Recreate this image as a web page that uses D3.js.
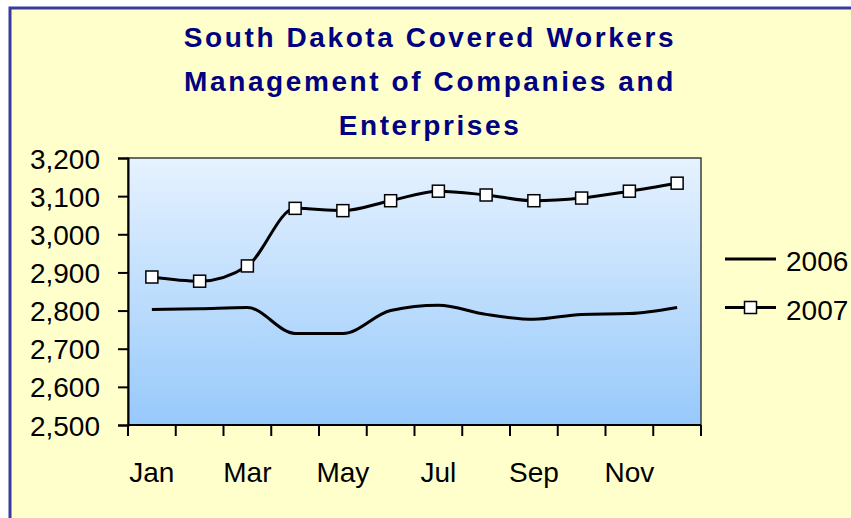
<!DOCTYPE html>
<html>
<head>
<meta charset="utf-8">
<script src="https://cdn.jsdelivr.net/npm/d3@7"></script>
<style>
  body { margin: 0; background: #fff; }
  svg { display: block; }
  text { font-family: Arial, "Liberation Sans", sans-serif; }
</style>
</head>
<body>
<svg id="chart" width="851" height="518"></svg>
<script>
const months = ['Jan', 'Feb', 'Mar', 'Apr', 'May', 'Jun', 'Jul', 'Aug', 'Sep', 'Oct', 'Nov', 'Dec']
const shownMonths = ['Jan', 'Mar', 'May', 'Jul', 'Sep', 'Nov']
const values2006 = [2803, 2805, 2808, 2740, 2740, 2800, 2814, 2790, 2777, 2790, 2792, 2808]
const values2007 = [2888, 2877, 2917, 3068, 3062, 3088, 3113, 3103, 3088, 3095, 3113, 3134]
const yTicks = [2500, 2600, 2700, 2800, 2900, 3000, 3100, 3200]
const titleLines = ['South Dakota Covered Workers', 'Management of Companies and', 'Enterprises']

const series = [
  { name: '2006', values: values2006, marker: false },
  { name: '2007', values: values2007, marker: true },
]

const svg = d3.select('#chart')
const plot = { left: 128, top: 158, right: 701, bottom: 425 }

// chart area background + frame
svg.append('rect')
  .attr('x', 10).attr('y', 8)
  .attr('width', 900).attr('height', 600)
  .attr('fill', '#ffffcc')
  .attr('stroke', '#3a3a9e')
  .attr('stroke-width', 3)

// Title
svg.append('g')
  .selectAll('text')
  .data(titleLines)
  .join('text')
  .attr('x', 430)
  .attr('y', (d, i) => 47 + i * 44)
  .attr('text-anchor', 'middle')
  .attr('fill', '#000080')
  .style('font-size', '28px')
  .style('font-weight', 'bold')
  .style('letter-spacing', '2.6px')
  .text(d => d)

const x = d3.scaleBand().domain(months).range([plot.left, plot.right])
const y = d3.scaleLinear().domain([2500, 3200]).range([plot.bottom, plot.top])

// Plot area gradient
const defs = svg.append('defs')
const grad = defs.append('linearGradient')
  .attr('id', 'plotFill')
  .attr('x1', 0).attr('y1', 0).attr('x2', 0).attr('y2', 1)
grad.append('stop').attr('offset', '0%').attr('stop-color', '#e6f2ff')
grad.append('stop').attr('offset', '100%').attr('stop-color', '#97c9fb')

svg.append('rect')
  .attr('x', plot.left).attr('y', plot.top)
  .attr('width', plot.right - plot.left)
  .attr('height', plot.bottom - plot.top)
  .attr('fill', 'url(#plotFill)')
  .attr('stroke', '#3c3c3c')
  .attr('stroke-width', 1.5)

// Y axis
const yAxis = svg.append('g')
  .attr('transform', `translate(${plot.left},0)`)
  .call(d3.axisLeft(y).tickValues(yTicks).tickSize(10).tickPadding(18).tickFormat(d3.format(',')))
yAxis.select('.domain').attr('stroke', '#000').attr('stroke-width', 2)
yAxis.selectAll('.tick line').attr('stroke', '#000').attr('stroke-width', 2)
yAxis.selectAll('.tick text')
  .attr('fill', '#000')
  .attr('dy', '0.36em')
  .style('font-size', '28px')
  .style('font-family', 'Arial, "Liberation Sans", sans-serif')

// X axis: ticks between categories
const xAxis = svg.append('g')
  .attr('transform', `translate(0,${plot.bottom})`)
xAxis.append('line')
  .attr('x1', plot.left).attr('x2', plot.right)
  .attr('stroke', '#000').attr('stroke-width', 2)
xAxis.selectAll('line.tick')
  .data(months.concat(['end']))
  .join('line')
  .attr('class', 'tick')
  .attr('x1', d => d === 'end' ? plot.right : x(d))
  .attr('x2', d => d === 'end' ? plot.right : x(d))
  .attr('y1', 0).attr('y2', 11)
  .attr('stroke', '#000').attr('stroke-width', 2)
xAxis.selectAll('text')
  .data(shownMonths)
  .join('text')
  .attr('x', d => x(d) + x.bandwidth() / 2)
  .attr('y', 57)
  .attr('text-anchor', 'middle')
  .attr('fill', '#000')
  .style('font-size', '28px')
  .text(d => d)

// Lines
const line = d3.line()
  .x((d, i) => x(months[i]) + x.bandwidth() / 2)
  .y(d => y(d))
  .curve(d3.curveMonotoneX)

series.forEach(s => {
  svg.append('path')
    .datum(s.values)
    .attr('d', line)
    .attr('fill', 'none')
    .attr('stroke', '#000')
    .attr('stroke-width', 3)

  if (s.marker) {
    svg.append('g')
      .selectAll('rect')
      .data(s.values)
      .join('rect')
      .attr('x', (d, i) => x(months[i]) + x.bandwidth() / 2 - 6)
      .attr('y', d => y(d) - 6)
      .attr('width', 12).attr('height', 12)
      .attr('fill', '#fff')
      .attr('stroke', '#000')
      .attr('stroke-width', 1.5)
  }
})

// Legend
const legend = svg.append('g')
  .selectAll('g')
  .data(series)
  .join('g')
  .attr('transform', (d, i) => `translate(725,${259 + i * 48.5})`)

legend.append('line')
  .attr('x1', 0).attr('x2', 51)
  .attr('stroke', '#000').attr('stroke-width', 3)
legend.filter(d => d.marker)
  .append('rect')
  .attr('x', 19.5).attr('y', -6)
  .attr('width', 12).attr('height', 12)
  .attr('fill', '#fff')
  .attr('stroke', '#000')
  .attr('stroke-width', 1.5)
legend.append('text')
  .attr('x', 61)
  .attr('y', 12)
  .attr('fill', '#000')
  .style('font-size', '28px')
  .text(d => d.name)
</script>
</body>
</html>
